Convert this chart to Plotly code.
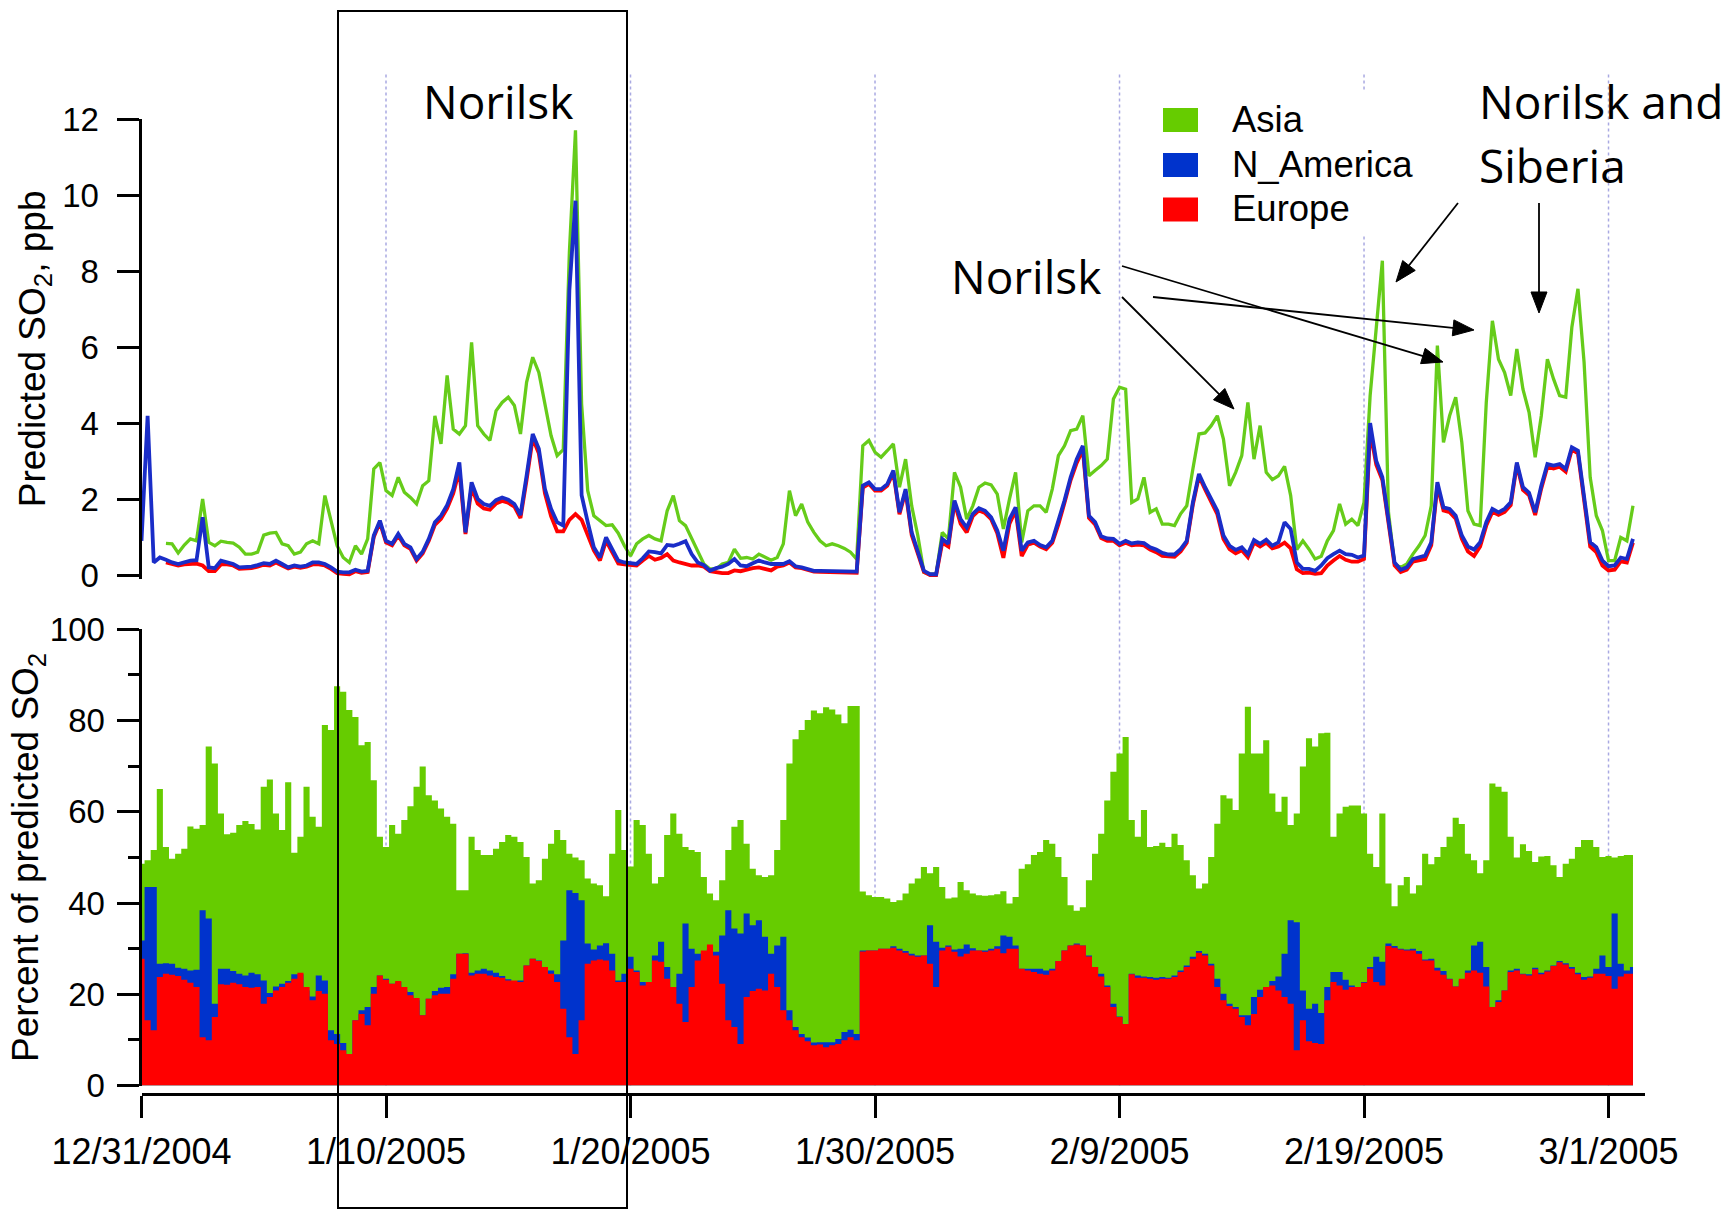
import math
import plotly.graph_objects as go
import pandas as pd

W, H = 1725, 1211

# 6-hourly sampling times, 31 Dec 2004 -> 2 Mar 2005
times = pd.date_range('2004-12-31 00:00', periods=245, freq='6h')

# ---------------- Top panel: predicted SO2 (ppb), lines as plotted ----------------
asia_ppb = [
    None, None, None, None,
    0.83, 0.82, 0.58, 0.79,
    0.95, 0.90, 2.00, 0.86,
    0.77, 0.89, 0.86, 0.84,
    0.73, 0.55, 0.55, 0.60,
    1.05, 1.10, 1.12, 0.82,
    0.77, 0.55, 0.60, 0.82,
    0.90, 0.82, 2.09, 1.43,
    0.77, 0.46, 0.33, 0.77,
    0.55, 0.95, 2.79, 2.96,
    2.22, 2.09, 2.57, 2.18,
    2.04, 1.87, 2.35, 2.48,
    4.19, 3.45, 5.25, 3.84,
    3.71, 3.93, 6.12, 3.93,
    3.71, 3.54, 4.32, 4.54,
    4.68, 4.46, 3.71, 5.07,
    5.73, 5.33, 4.54, 3.67,
    3.14, 3.30, 8.50, 11.70,
    4.50, 2.22, 1.56, 1.43,
    1.30, 1.32, 1.10, 0.77,
    0.50, 0.82, 0.95, 1.04,
    0.95, 0.90, 1.69, 2.09,
    1.43, 1.30, 0.96, 0.64,
    0.29, 0.16, 0.16, 0.29,
    0.33, 0.68, 0.44, 0.46,
    0.42, 0.55, 0.46, 0.39,
    0.46, 0.82, 2.22, 1.56,
    1.87, 1.39, 1.12, 0.90,
    0.77, 0.82, 0.77, 0.70,
    0.60, 0.42, 3.40, 3.54,
    3.23, 3.10, 3.27, 3.45,
    2.31, 3.05, 1.82, 1.04,
    0.07, 0.02, 0.02, 1.12,
    0.95, 2.70, 2.31, 1.47,
    1.82, 2.31, 2.42, 2.37,
    2.13, 1.21, 2.00, 2.70,
    0.86, 1.69, 1.82, 1.82,
    1.65, 2.26, 3.14, 3.40,
    3.80, 3.84, 4.19, 2.61,
    2.75, 2.88, 3.05, 4.63,
    4.94, 4.89, 1.91, 2.00,
    2.57, 1.65, 1.74, 1.34,
    1.34, 1.30, 1.61, 1.82,
    2.79, 3.71, 3.74, 3.93,
    4.19, 3.58, 2.35, 2.70,
    3.14, 4.54, 3.05, 3.93,
    2.70, 2.51, 2.61, 2.86,
    2.09, 0.67, 0.90, 0.68,
    0.42, 0.49, 0.90, 1.17,
    1.87, 1.34, 1.47, 1.30,
    1.91, 4.72, 6.50, 8.27,
    1.65, 0.29, 0.20, 0.29,
    0.55, 0.77, 1.04, 1.82,
    6.04, 3.49, 4.19, 4.68,
    3.49, 1.69, 1.34, 1.30,
    4.54, 6.69, 5.68, 5.33,
    4.72, 5.95, 4.89, 4.28,
    3.10, 4.19, 5.68, 5.16,
    4.72, 4.68, 6.52, 7.53,
    5.60, 2.57, 1.56, 1.17,
    0.38, 0.38, 0.99, 0.90,
    1.82,
]

namerica_ppb = [
    0.90, 4.19, 0.33, 0.46,
    0.40, 0.33, 0.29, 0.33,
    0.38, 0.39, 1.52, 0.20,
    0.18, 0.38, 0.33, 0.29,
    0.20, 0.20, 0.22, 0.26,
    0.31, 0.29, 0.38, 0.29,
    0.20, 0.25, 0.22, 0.25,
    0.33, 0.33, 0.29, 0.20,
    0.09, 0.07, 0.07, 0.14,
    0.09, 0.11, 1.04, 1.43,
    0.90, 0.82, 1.08, 0.82,
    0.73, 0.42, 0.61, 0.95,
    1.39, 1.56, 1.84, 2.26,
    2.96, 1.12, 2.44, 2.00,
    1.87, 1.82, 1.97, 2.04,
    1.98, 1.87, 1.58, 2.61,
    3.71, 3.32, 2.26, 1.74,
    1.39, 1.30, 7.50, 9.85,
    2.10, 1.39, 0.73, 0.46,
    0.99, 0.68, 0.38, 0.33,
    0.30, 0.29, 0.44, 0.62,
    0.60, 0.57, 0.79, 0.77,
    0.82, 0.89, 0.55, 0.33,
    0.26, 0.11, 0.18, 0.22,
    0.29, 0.42, 0.25, 0.23,
    0.31, 0.38, 0.33, 0.29,
    0.29, 0.29, 0.36, 0.23,
    0.20, 0.16, 0.11, 0.11,
    0.11, 0.11, 0.11, 0.11,
    0.11, 0.09, 2.35, 2.44,
    2.26, 2.26, 2.39, 2.75,
    1.65, 2.26, 1.12, 0.60,
    0.11, 0.02, 0.02, 0.95,
    0.82, 1.96, 1.47, 1.25,
    1.61, 1.76, 1.69, 1.52,
    1.17, 0.64, 1.47, 1.78,
    0.64, 0.86, 0.90, 0.79,
    0.73, 0.90, 1.39, 1.96,
    2.57, 3.05, 3.40, 1.56,
    1.39, 1.02, 0.96, 0.95,
    0.82, 0.90, 0.83, 0.86,
    0.84, 0.73, 0.67, 0.58,
    0.54, 0.54, 0.68, 0.90,
    1.91, 2.66, 2.31, 2.00,
    1.69, 1.04, 0.77, 0.66,
    0.73, 0.55, 0.92, 0.82,
    0.93, 0.77, 0.86, 1.39,
    1.21, 0.33, 0.16, 0.16,
    0.11, 0.25, 0.44, 0.55,
    0.64, 0.55, 0.53, 0.46,
    0.51, 4.00, 3.00, 2.57,
    1.39, 0.33, 0.14, 0.20,
    0.42, 0.46, 0.51, 0.86,
    2.44, 1.78, 1.74, 1.56,
    1.04, 0.75, 0.67, 0.86,
    1.39, 1.74, 1.65, 1.74,
    1.91, 2.96, 2.31, 2.16,
    1.65, 2.35, 2.92, 2.88,
    2.92, 2.79, 3.36, 3.27,
    2.09, 0.86, 0.73, 0.38,
    0.23, 0.25, 0.46, 0.42,
    0.95,
]

europe_ppb = [
    None, None, None, None,
    0.33, 0.28, 0.25, 0.28,
    0.30, 0.30, 0.25, 0.10,
    0.10, 0.28, 0.28, 0.25,
    0.16, 0.16, 0.18, 0.22,
    0.27, 0.25, 0.33, 0.25,
    0.17, 0.22, 0.19, 0.22,
    0.28, 0.28, 0.25, 0.16,
    0.05, 0.03, 0.02, 0.10,
    0.06, 0.08, 1.00, 1.38,
    0.86, 0.78, 1.04, 0.78,
    0.69, 0.38, 0.57, 0.90,
    1.32, 1.48, 1.75, 2.15,
    2.75, 1.08, 2.30, 1.88,
    1.75, 1.72, 1.88, 1.95,
    1.90, 1.80, 1.50, 2.50,
    3.60, 3.20, 2.15, 1.55,
    1.15, 1.15, 1.45, 1.60,
    1.45, 1.05, 0.65, 0.38,
    0.90, 0.60, 0.30, 0.28,
    0.27, 0.25, 0.38, 0.50,
    0.40, 0.45, 0.55, 0.38,
    0.33, 0.30, 0.25, 0.25,
    0.22, 0.10, 0.07, 0.05,
    0.05, 0.12, 0.10, 0.15,
    0.18, 0.20, 0.15, 0.12,
    0.22, 0.25, 0.33, 0.20,
    0.18, 0.13, 0.09, 0.08,
    0.08, 0.08, 0.08, 0.08,
    0.08, 0.06, 2.30, 2.40,
    2.22, 2.22, 2.35, 2.70,
    1.60, 2.20, 1.05, 0.55,
    0.08, 0.00, 0.00, 0.85,
    0.75, 1.90, 1.35, 1.12,
    1.55, 1.70, 1.63, 1.47,
    1.10, 0.45, 1.35, 1.70,
    0.50, 0.80, 0.85, 0.75,
    0.68, 0.85, 1.33, 1.90,
    2.50, 2.95, 3.30, 1.50,
    1.33, 0.97, 0.90, 0.90,
    0.78, 0.85, 0.78, 0.80,
    0.78, 0.67, 0.60, 0.50,
    0.48, 0.48, 0.62, 0.85,
    1.85, 2.60, 2.25, 1.93,
    1.60, 0.95, 0.68, 0.57,
    0.65, 0.47, 0.85, 0.75,
    0.85, 0.70, 0.75, 0.85,
    0.70, 0.15, 0.05, 0.06,
    0.03, 0.05, 0.25, 0.38,
    0.50, 0.40, 0.35, 0.35,
    0.42, 3.80, 2.90, 2.50,
    1.30, 0.25, 0.08, 0.14,
    0.35, 0.38, 0.42, 0.78,
    2.35, 1.70, 1.65, 1.48,
    0.95, 0.62, 0.50, 0.75,
    1.30, 1.66, 1.58, 1.66,
    1.84, 2.90, 2.24, 2.10,
    1.58, 2.28, 2.85, 2.80,
    2.85, 2.72, 3.30, 3.20,
    2.00, 0.75, 0.60, 0.25,
    0.12, 0.14, 0.36, 0.33,
    0.85,
]

# ---------------- Bottom panel: percent of predicted SO2 (cumulative tops) ----------------
asia_top_pct = [
    48.6, 49.4, 51.6, 65.0,
    52.3, 49.7, 50.8, 51.9,
    56.8, 56.3, 57.1, 74.3,
    70.6, 59.6, 55.1, 55.4,
    57.1, 58.0, 57.3, 56.1,
    65.5, 67.1, 59.6, 56.0,
    66.5, 51.0, 54.5, 65.5,
    58.9, 56.7, 79.0, 77.9,
    87.5, 86.3, 82.3, 80.8,
    74.6, 75.3, 66.9, 54.5,
    52.3, 57.1, 55.2, 58.2,
    61.2, 65.5, 69.9, 63.6,
    62.5, 60.7, 58.9, 57.4,
    42.8, 42.8, 54.5, 51.6,
    50.5, 50.5, 51.9, 53.4,
    54.9, 54.5, 53.4, 50.1,
    44.3, 45.0, 49.7, 53.0,
    56.0, 53.8, 50.8, 50.0,
    49.4, 45.4, 44.3, 43.9,
    41.5, 50.8, 60.4, 51.6,
    48.0, 58.2, 57.1, 50.8,
    44.3, 45.7, 54.9, 59.6,
    55.2, 52.3, 51.6, 51.2,
    45.7, 42.1, 40.6, 45.0,
    51.6, 56.7, 58.2, 53.0,
    47.5, 46.1, 45.7, 46.1,
    51.6, 58.2, 70.6, 75.9,
    77.9, 80.1, 82.2, 81.6,
    82.9, 82.4, 81.3, 79.4,
    83.2, 83.2, 42.5, 41.7,
    41.3, 41.3, 41.0, 40.2,
    40.6, 42.1, 44.3, 45.4,
    47.9, 46.5, 47.9, 43.5,
    41.0, 41.2, 44.6, 42.8,
    42.1, 41.7, 41.6, 41.7,
    41.9, 42.6, 39.9, 41.3,
    47.5, 48.5, 50.5, 51.2,
    53.8, 53.0, 50.1, 45.7,
    39.5, 38.3, 39.1, 45.0,
    50.8, 55.2, 62.5, 68.8,
    72.8, 76.4, 58.2, 54.5,
    60.4, 52.3, 52.5, 53.2,
    52.3, 55.2, 52.7, 49.4,
    46.1, 43.2, 44.3, 50.1,
    57.4, 63.6, 62.9, 60.4,
    72.8, 83.0, 72.8, 72.8,
    75.7, 64.0, 60.0, 63.3,
    57.1, 59.6, 69.9, 76.1,
    74.3, 77.2, 77.3, 54.5,
    59.6, 61.1, 61.4, 61.4,
    59.6, 50.8, 47.9, 59.6,
    44.3, 39.3, 43.9, 45.7,
    42.1, 43.9, 50.8, 48.5,
    50.1, 52.3, 54.5, 58.7,
    57.3, 50.8, 49.4, 46.5,
    49.4, 66.2, 65.5, 64.4,
    54.5, 50.0, 52.9, 51.4,
    49.0, 50.2, 50.3, 48.3,
    45.7, 48.6, 49.7, 52.3,
    53.8, 53.8, 52.3, 50.1,
    50.3, 50.0, 50.3, 50.5,
    50.5,
]

namerica_top_pct = [
    31.8, 43.5, 43.5, 26.7,
    26.8, 26.7, 25.8, 25.6,
    25.2, 25.4, 38.4, 36.6,
    17.9, 25.6, 25.6, 25.1,
    24.5, 24.1, 24.7, 24.4,
    23.0, 20.3, 21.7, 22.3,
    22.9, 24.4, 24.4, 20.8,
    19.5, 24.1, 23.0, 12.1,
    11.3, 9.3, 6.6, 14.3,
    16.5, 17.2, 21.6, 24.1,
    23.4, 22.3, 22.7, 20.8,
    20.5, 18.7, 15.4, 19.0,
    20.7, 21.4, 21.6, 24.4,
    28.9, 29.0, 24.7, 25.2,
    25.6, 25.2, 24.7, 24.0,
    23.3, 22.9, 23.0, 26.3,
    27.8, 27.4, 26.0, 25.2,
    24.4, 31.8, 42.8, 42.2,
    40.6, 31.1, 29.8, 30.7,
    31.2, 28.9, 23.0, 24.5,
    28.2, 25.2, 22.7, 22.3,
    28.5, 31.5, 26.0, 21.6,
    24.5, 35.5, 30.0, 28.9,
    29.1, 30.0, 29.3, 32.9,
    38.4, 34.4, 33.3, 37.7,
    35.1, 36.2, 32.6, 28.9,
    30.7, 32.6, 16.5, 12.8,
    11.3, 10.5, 9.4, 9.5,
    9.5, 9.5, 10.2, 11.7,
    12.2, 11.3, 29.6, 29.6,
    29.6, 30.0, 30.0, 30.5,
    30.0, 29.5, 28.9, 28.5,
    28.5, 35.1, 31.5, 30.2,
    30.7, 29.8, 30.0, 30.9,
    30.1, 29.6, 29.6, 30.0,
    30.5, 32.9, 32.6, 30.7,
    25.6, 25.6, 25.6, 25.6,
    25.2, 25.6, 27.3, 29.6,
    30.7, 31.1, 30.7, 28.5,
    26.0, 24.5, 21.9, 17.9,
    15.1, 13.5, 24.5, 24.1,
    23.9, 23.8, 23.6, 23.8,
    23.6, 24.1, 25.2, 26.3,
    28.2, 29.5, 28.9, 26.7,
    23.4, 20.1, 17.9, 17.2,
    15.4, 15.4, 19.4, 21.0,
    21.6, 22.9, 23.9, 28.9,
    36.2, 35.8, 20.8, 16.8,
    17.9, 15.9, 21.6, 24.9,
    24.9, 23.2, 21.9, 21.6,
    22.7, 26.0, 28.2, 27.1,
    31.1, 30.6, 30.0, 29.8,
    30.0, 29.5, 27.6, 27.8,
    25.8, 25.1, 23.4, 21.7,
    23.0, 25.2, 30.7, 31.5,
    26.0, 17.2, 18.7, 20.8,
    25.2, 25.6, 24.5, 24.4,
    25.8, 24.7, 25.2, 26.3,
    27.3, 26.8, 26.0, 24.7,
    23.8, 23.9, 25.6, 28.5,
    26.0, 37.7, 26.7, 25.2,
    26.0,
]

europe_top_pct = [
    27.8, 14.3, 12.1, 23.8,
    24.5, 24.3, 24.0, 23.2,
    22.5, 21.6, 10.6, 9.9,
    15.0, 22.2, 22.1, 22.5,
    22.2, 21.6, 21.4, 21.6,
    17.9, 19.4, 20.8, 21.6,
    22.5, 23.4, 24.7, 21.6,
    18.7, 20.7, 20.1, 9.9,
    9.1, 7.7, 6.9, 14.3,
    15.7, 13.2, 20.1, 24.1,
    23.2, 22.3, 22.9, 21.6,
    19.8, 19.2, 15.4, 19.0,
    19.8, 20.1, 20.1, 23.4,
    28.9, 28.9, 24.1, 24.5,
    24.5, 24.1, 23.8, 23.6,
    23.0, 23.0, 22.7, 26.3,
    27.8, 27.3, 26.0, 24.5,
    22.7, 16.8, 10.6, 6.9,
    14.3, 26.7, 27.4, 27.6,
    27.4, 25.2, 22.7, 22.7,
    25.6, 24.9, 21.9, 22.7,
    27.4, 27.1, 23.4, 21.6,
    17.9, 13.9, 21.6, 27.4,
    29.6, 30.9, 28.5, 22.3,
    14.3, 12.8, 9.1, 19.4,
    20.7, 21.2, 20.8, 24.5,
    21.6, 16.5, 14.3, 12.1,
    10.6, 9.7, 8.8, 9.0,
    8.4, 8.8, 9.1, 9.9,
    10.6, 9.9, 29.4, 29.6,
    29.6, 30.0, 30.0, 30.2,
    29.6, 29.1, 28.5, 28.2,
    28.5, 26.7, 21.6, 29.6,
    30.4, 29.3, 28.3, 28.9,
    29.6, 29.6, 29.3, 29.6,
    30.0, 29.0, 30.0, 30.0,
    25.6, 25.2, 24.9, 24.5,
    24.3, 25.2, 27.3, 29.6,
    30.7, 30.9, 30.7, 28.3,
    26.0, 23.9, 21.6, 17.2,
    15.0, 13.5, 24.4, 23.6,
    23.6, 23.4, 23.2, 23.4,
    23.4, 23.8, 24.9, 26.0,
    27.8, 29.1, 28.5, 26.3,
    21.6, 18.7, 17.4, 16.8,
    15.0, 13.2, 15.7, 19.4,
    21.6, 21.9, 20.8, 19.4,
    17.9, 7.7, 14.3, 9.7,
    9.3, 9.1, 18.7, 22.7,
    21.9, 21.0, 21.6, 21.6,
    22.5, 25.6, 22.7, 21.9,
    30.6, 30.2, 29.8, 29.6,
    29.6, 28.9, 27.4, 27.4,
    25.2, 24.3, 23.3, 21.7,
    23.4, 24.7, 25.2, 24.7,
    21.7, 17.2, 18.3, 20.8,
    24.9, 25.2, 24.4, 24.1,
    25.5, 24.4, 25.0, 26.2,
    27.0, 26.5, 25.6, 24.4,
    23.2, 23.6, 24.5, 24.5,
    24.0, 21.2, 23.9, 24.5,
    24.5,
]

tick_dates = ['2004-12-31', '2005-01-10', '2005-01-20', '2005-01-30',
              '2005-02-09', '2005-02-19', '2005-03-01']
tick_text = ['12/31/2004', '1/10/2005', '1/20/2005', '1/30/2005',
             '2/9/2005', '2/19/2005', '3/1/2005']

for arr in (asia_ppb, namerica_ppb, europe_ppb, asia_top_pct, namerica_top_pct, europe_top_pct):
    assert len(arr) == len(times), len(arr)

# colours
GREEN_LINE = '#66CC1A'
BLUE_LINE = '#1A2DC8'
RED = '#FF0000'
GREEN_FILL = '#66CC00'
BLUE_FILL = '#0033CC'

def px(x):
    return x / W

def py(y):
    return 1 - y / H

FAMILY = 'Liberation Sans, Arial, sans-serif'
XTICK_FONT = dict(family=FAMILY, size=36, color='black')
YTICK_FONT = dict(family=FAMILY, size=33, color='black')
LEGEND_FONT = dict(family=FAMILY, size=36.5, color='black')
TITLE_FONT = dict(family=FAMILY, size=37, color='black')
NOTE_FONT = dict(family='Open Sans, sans-serif', size=46, color='black')

xdom = [px(141.5), px(1645.2)]
xrange_ = ['2004-12-31 00:00', '2005-03-02 12:00']

fig = go.Figure()

# top panel lines
fig.add_trace(go.Scatter(x=times, y=asia_ppb, mode='lines', name='Asia',
                         line=dict(color=GREEN_LINE, width=3.3), xaxis='x', yaxis='y', showlegend=False))
fig.add_trace(go.Scatter(x=times, y=europe_ppb, mode='lines', name='Europe',
                         line=dict(color=RED, width=3.8), xaxis='x', yaxis='y', showlegend=False))
fig.add_trace(go.Scatter(x=times, y=namerica_ppb, mode='lines', name='N_America',
                         line=dict(color=BLUE_LINE, width=3.8), xaxis='x', yaxis='y', showlegend=False))

# bottom panel stacked (cumulative tops drawn back to front)
fig.add_trace(go.Scatter(x=times, y=asia_top_pct, mode='lines', fill='tozeroy', name='Asia',
                         fillcolor=GREEN_FILL, line=dict(width=0, shape='hvh', color=GREEN_FILL),
                         xaxis='x2', yaxis='y2', showlegend=False))
fig.add_trace(go.Scatter(x=times, y=namerica_top_pct, mode='lines', fill='tozeroy', name='N_America',
                         fillcolor=BLUE_FILL, line=dict(width=0, shape='hvh', color=BLUE_FILL),
                         xaxis='x2', yaxis='y2', showlegend=False))
fig.add_trace(go.Scatter(x=times, y=europe_top_pct, mode='lines', fill='tozeroy', name='Europe',
                         fillcolor=RED, line=dict(width=0, shape='hvh', color=RED),
                         xaxis='x2', yaxis='y2', showlegend=False))

shapes = []
# dotted vertical date guides
for d in tick_dates[1:]:
    shapes.append(dict(type='line', xref='x2', yref='paper', x0=d, x1=d,
                       y0=py(1085.5), y1=py(72), layer='below',
                       line=dict(color='#A9A9E2', width=1.5, dash='dot')))
# white legend background
shapes.append(dict(type='rect', xref='paper', yref='paper', x0=px(1150), x1=px(1425),
                   y0=py(236), y1=py(92), layer='below', fillcolor='white', line=dict(width=0)))
# legend swatches
legend_items = [('Asia', GREEN_FILL, 120), ('N_America', BLUE_FILL, 165), ('Europe', RED, 209.5)]
for name, col, yc in legend_items:
    shapes.append(dict(type='rect', xref='paper', yref='paper', x0=px(1163), x1=px(1198),
                       y0=py(yc + 12), y1=py(yc - 12), fillcolor=col, line=dict(width=0)))
# highlight box
shapes.append(dict(type='rect', xref='paper', yref='paper', x0=px(338), x1=px(627),
                   y0=py(1208), y1=py(11), line=dict(color='black', width=2),
                   fillcolor='rgba(0,0,0,0)'))

# arrows (start_x, start_y, tip_x, tip_y) in figure pixels, drawn as line + filled head
arrows = [
    (1122, 266, 1443, 362),
    (1153, 297, 1474, 330),
    (1122, 297, 1234, 409),
    (1458, 203, 1396, 282),
    (1539, 203, 1539, 313),
]
HEAD_LEN, HEAD_HALF = 21, 8
for sx, sy, tx, ty in arrows:
    dx, dy = tx - sx, ty - sy
    n = math.hypot(dx, dy)
    ux, uy = dx / n, dy / n
    bx, by = tx - ux * HEAD_LEN, ty - uy * HEAD_LEN
    nx, ny = -uy, ux
    shapes.append(dict(type='line', xref='paper', yref='paper',
                       x0=px(sx), y0=py(sy), x1=px(bx + ux * 2), y1=py(by + uy * 2),
                       line=dict(color='black', width=1.8)))
    p1 = (px(tx), py(ty))
    p2 = (px(bx + nx * HEAD_HALF), py(by + ny * HEAD_HALF))
    p3 = (px(bx - nx * HEAD_HALF), py(by - ny * HEAD_HALF))
    path = 'M{:.6f},{:.6f} L{:.6f},{:.6f} L{:.6f},{:.6f} Z'.format(*p1, *p2, *p3)
    shapes.append(dict(type='path', xref='paper', yref='paper', path=path,
                       fillcolor='black', line=dict(color='black', width=1)))

annotations = []
for name, col, yc in legend_items:
    annotations.append(dict(text=name, xref='paper', yref='paper', x=px(1230), y=py(yc - 1),
                            xanchor='left', yanchor='middle', showarrow=False, font=LEGEND_FONT))

annotations += [
    dict(text='Norilsk', xref='paper', yref='paper', x=px(498), y=py(101),
         xanchor='center', yanchor='middle', showarrow=False, font=NOTE_FONT),
    dict(text='Norilsk', xref='paper', yref='paper', x=px(1026), y=py(276),
         xanchor='center', yanchor='middle', showarrow=False, font=NOTE_FONT),
    dict(text='Norilsk and', xref='paper', yref='paper', x=px(1477), y=py(101),
         xanchor='left', yanchor='middle', showarrow=False, font=NOTE_FONT),
    dict(text='Siberia', xref='paper', yref='paper', x=px(1477), y=py(165),
         xanchor='left', yanchor='middle', showarrow=False, font=NOTE_FONT),
]

fig.update_layout(
    width=W, height=H,
    margin=dict(l=0, r=0, t=0, b=0),
    paper_bgcolor='white',
    plot_bgcolor='rgba(0,0,0,0)',
    showlegend=False,
    xaxis=dict(domain=xdom, range=xrange_, type='date', matches='x2', anchor='y',
               showticklabels=False, showline=False, ticks='', showgrid=False,
               zeroline=False, automargin=False),
    yaxis=dict(domain=[py(578.8), py(119)], range=[-0.1, 12], anchor='x',
               tickmode='array', tickvals=[0, 2, 4, 6, 8, 10, 12],
               ticks='outside', ticklen=22, tickwidth=3, tickcolor='black',
               showline=True, linewidth=3, linecolor='black',
               showgrid=False, zeroline=False, tickfont=YTICK_FONT,
               ticklabelstandoff=11, automargin=False,
               title=dict(text='Predicted SO<sub>2</sub>, ppb', font=TITLE_FONT, standoff=6)),
    xaxis2=dict(domain=xdom, range=xrange_, type='date', anchor='free', position=py(1094),
                tickmode='array', tickvals=tick_dates, ticktext=tick_text,
                ticks='outside', ticklen=22, tickwidth=3, tickcolor='black',
                showline=True, linewidth=3, linecolor='black',
                showgrid=False, zeroline=False, tickfont=XTICK_FONT,
                ticklabelstandoff=3, automargin=False),
    yaxis2=dict(domain=[py(1085.5), py(629.3)], range=[0, 100], anchor='x2',
                tickmode='linear', tick0=0, dtick=20,
                ticks='outside', ticklen=22, tickwidth=3, tickcolor='black',
                minor=dict(dtick=10, tick0=0, ticks='outside', ticklen=11, tickwidth=3,
                           tickcolor='black', showgrid=False),
                showline=True, linewidth=3, linecolor='black',
                showgrid=False, zeroline=False, tickfont=YTICK_FONT,
                ticklabelstandoff=5, automargin=False,
                title=dict(text='Percent of predicted SO<sub>2</sub>', font=TITLE_FONT, standoff=0)),
    shapes=shapes,
    annotations=annotations,
)

fig.write_html('out.html')
